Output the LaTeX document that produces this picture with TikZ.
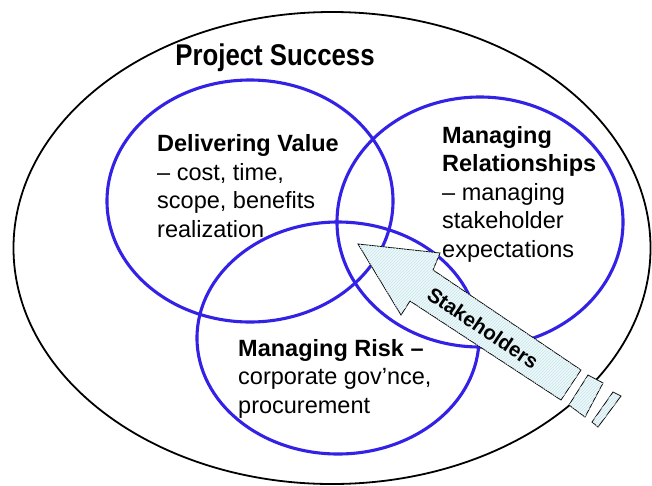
\documentclass[tikz,border=0pt]{standalone}
\usepackage{fontspec}
\setmainfont{Liberation Sans}
\usetikzlibrary{shapes.geometric,patterns}
\definecolor{ringblue}{RGB}{51,34,230}
\definecolor{arrowfill}{RGB}{238,248,250}
\definecolor{hatch}{RGB}{200,230,236}
\tikzset{
  ring/.style={draw=ringblue,line width=3.1pt,ellipse,inner sep=0pt},
  outer/.style={draw=black,line width=1.8pt,ellipse,inner sep=0pt},
  body/.style={inner sep=0pt,anchor=base west,align=left,font=\fontsize{23.5}{28.5}\selectfont},
  blockarrow/.style={draw=black,line width=0.8pt,fill=arrowfill,postaction={pattern=north east lines,pattern color=hatch}},
}
\begin{document}
\begin{tikzpicture}[x=1pt,y=-1pt]
\useasboundingbox (0,0) rectangle (652,485);
\node[outer,minimum width=637pt,minimum height=472pt] (success) at (332,248) {};
\node[ring,minimum width=286pt,minimum height=242pt] (value) at (250,201) {};
\node[ring,minimum width=286pt,minimum height=250pt] (rel) at (480,222) {};
\node[ring,minimum width=282pt,minimum height=232pt] (risk) at (338,338) {};
\node[inner sep=0pt,anchor=base,font=\fontsize{30}{36}\selectfont\bfseries,xscale=0.86] (title) at (275,65) {Project Success};
\node[body] (tvalue) at (157,237) {\textbf{Delivering Value}\\– cost, time,\\scope, benefits\\realization};
\node[body] (trel) at (442,257) {\textbf{Managing}\\\textbf{Relationships}\\– managing\\stakeholder\\expectations};
\node[body] (trisk) at (238,413) {\textbf{Managing Risk –}\\corporate gov’nce,\\procurement};
\draw[blockarrow] (358,244) -- (440,253) -- (433,270) -- (581,370) -- (561,400) -- (410,301) -- (401,315) -- cycle;
\draw[blockarrow] (588,375) -- (603,383) -- (585,417) -- (569,405) -- cycle;
\draw[blockarrow] (613,392) -- (621,396) -- (598,427) -- (592,422) -- cycle;
\node[inner sep=0pt,rotate=-34,font=\fontsize{20.5}{22}\selectfont\bfseries] (stake) at (483,328) {Stakeholders};
\end{tikzpicture}
\end{document}
